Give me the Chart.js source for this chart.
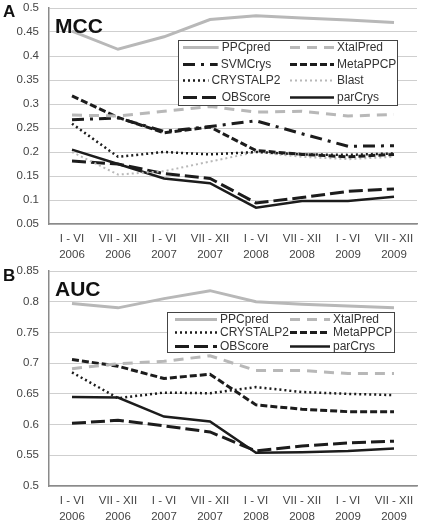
<!DOCTYPE html>
<html>
<head>
<meta charset="utf-8">
<script src="https://cdn.jsdelivr.net/npm/chart.js@4.4.0/dist/chart.umd.min.js"></script>
<style>
  body { margin: 0; background: #fff; width: 421px; height: 523px; overflow: hidden; position: relative; font-family: "Liberation Sans", Arial, sans-serif; }
  .panel { position: absolute; left: 0; }
  #wrapA { top: 0; }
  #wrapB { top: 262px; }
  .tag { position: absolute; left: 3px; font-weight: bold; font-size: 17px; color: #111; line-height: 17px; }
</style>
</head>
<body>
<div class="panel" id="wrapA"><canvas id="chartA" width="421" height="262"></canvas></div>
<div class="panel" id="wrapB"><canvas id="chartB" width="421" height="261"></canvas></div>
<div class="tag" style="top:3px">A</div>
<div class="tag" style="top:267px">B</div>
<script>
// periods on the x axis (two-line labels)
const periods = [
  ["I - VI", "2006"], ["VII - XII", "2006"],
  ["I - VI", "2007"], ["VII - XII", "2007"],
  ["I - VI", "2008"], ["VII - XII", "2008"],
  ["I - VI", "2009"], ["VII - XII", "2009"]
];

// panel A - MCC
const mccPPCpred   = [0.452, 0.414, 0.440, 0.476, 0.484, 0.479, 0.475, 0.470];
const mccXtalPred  = [0.277, 0.275, 0.285, 0.295, 0.283, 0.285, 0.275, 0.278];
const mccSVMCrys   = [0.267, 0.271, 0.243, 0.253, 0.265, 0.238, 0.212, 0.213];
const mccMetaPPCP  = [0.317, 0.272, 0.240, 0.252, 0.203, 0.195, 0.190, 0.195];
const mccCRYSTALP2 = [0.259, 0.190, 0.200, 0.195, 0.200, 0.195, 0.194, 0.197];
const mccBlast     = [0.200, 0.153, 0.160, 0.180, 0.200, 0.190, 0.185, 0.190];
const mccOBScore   = [0.181, 0.175, 0.155, 0.145, 0.094, 0.105, 0.118, 0.123];
const mccParCrys   = [0.205, 0.175, 0.145, 0.135, 0.084, 0.098, 0.098, 0.107];

// panel B - AUC
const aucPPCpred   = [0.797, 0.790, 0.805, 0.818, 0.800, 0.796, 0.793, 0.790];
const aucXtalPred  = [0.691, 0.699, 0.703, 0.712, 0.688, 0.688, 0.683, 0.683];
const aucCRYSTALP2 = [0.685, 0.643, 0.652, 0.651, 0.661, 0.653, 0.650, 0.648];
const aucMetaPPCP  = [0.706, 0.695, 0.675, 0.682, 0.632, 0.625, 0.621, 0.621];
const aucOBScore   = [0.602, 0.607, 0.598, 0.588, 0.557, 0.565, 0.570, 0.573];
const aucParCrys   = [0.645, 0.644, 0.613, 0.605, 0.554, 0.555, 0.557, 0.561];

const FONT = '"Liberation Sans", Arial, sans-serif';
const LIGHT = '#b8b8b8';
const DARK = '#1c1c1c';

const styles = {
  PPCpred:   { borderColor: LIGHT, borderWidth: 3, borderDash: [] },
  XtalPred:  { borderColor: LIGHT, borderWidth: 3, borderDash: [10, 7] },
  SVMCrys:   { borderColor: DARK, borderWidth: 3, borderDash: [12, 6, 3, 6] },
  MetaPPCP:  { borderColor: DARK, borderWidth: 3, borderDash: [7, 3] },
  CRYSTALP2: { borderColor: DARK, borderWidth: 2.5, borderDash: [2, 3] },
  Blast:     { borderColor: LIGHT, borderWidth: 2, borderDash: [2, 3] },
  OBScore:   { borderColor: DARK, borderWidth: 3, borderDash: [14, 5] },
  parCrys:   { borderColor: DARK, borderWidth: 2.5, borderDash: [] }
};

function ds(label, data) {
  return Object.assign({ label: label, data: data, fill: false, pointRadius: 0, tension: 0 }, styles[label]);
}

// legend in a white box inside the plot, plus the panel title
const boxLegend = {
  id: 'boxLegend',
  afterDraw(chart, args, o) {
    const ctx = chart.ctx;
    ctx.save();
    ctx.fillStyle = '#fff';
    ctx.fillRect(o.x, o.y, o.w, o.h);
    ctx.strokeStyle = '#444';
    ctx.lineWidth = 1;
    ctx.strokeRect(o.x + 0.5, o.y + 0.5, o.w, o.h);
    ctx.font = '12px ' + FONT;
    ctx.textBaseline = 'middle';
    chart.data.datasets.forEach((d, i) => {
      const col = o.cols[i % 2];
      const cy = Math.round(o.y + o.rowTop + Math.floor(i / 2) * o.rowH) + 0.5;
      const tw = ctx.measureText(d.label).width;
      const tx = col.align === 'center' ? col.text - tw / 2 : col.text;
      const end = col.align === 'center' ? tx - 3 : col.lineEnd;
      ctx.beginPath();
      ctx.setLineDash(d.borderDash);
      ctx.strokeStyle = d.borderColor;
      ctx.lineWidth = d.borderWidth;
      ctx.moveTo(o.x + col.lineStart, cy);
      ctx.lineTo(o.x + end, cy);
      ctx.stroke();
      ctx.setLineDash([]);
      ctx.fillStyle = '#333';
      ctx.textAlign = 'left';
      ctx.fillText(d.label, o.x + tx, cy);
    });
    ctx.font = 'bold 21px ' + FONT;
    ctx.fillStyle = '#111';
    ctx.textBaseline = 'alphabetic';
    ctx.fillText(o.title, chart.chartArea.left + 6, chart.chartArea.top + 25);
    ctx.restore();
  }
};

function makeChart(id, datasets, yMin, yMax, legendOpts, topGap, xHeight) {
  return new Chart(document.getElementById(id).getContext('2d'), {
    type: 'line',
    data: { labels: periods, datasets: datasets },
    plugins: [boxLegend],
    options: {
      responsive: false,
      animation: false,
      layout: { padding: { top: 0, right: 4, left: 0, bottom: 0 } },
      plugins: {
        legend: { display: false },
        tooltip: { enabled: false },
        boxLegend: legendOpts
      },
      scales: {
        x: {
          offset: true,
          grid: { display: false, drawTicks: false },
          border: { display: true, color: '#8a8a8a', width: 1.5 },
          ticks: { color: '#444', padding: 7, maxRotation: 0, autoSkip: false, font: { family: FONT, size: 11.5, lineHeight: 1.4 } },
          afterFit: (s) => { s.height = xHeight; }
        },
        y: {
          min: yMin,
          max: yMax,
          grid: { color: '#cfcfcf', lineWidth: 1, drawTicks: false },
          border: { display: true, color: '#8a8a8a', width: 1.5 },
          ticks: {
            stepSize: 0.05, color: '#444', padding: 10,
            font: { family: FONT, size: 11.5 },
            callback: (v) => String(Math.round(v * 100) / 100)
          },
          afterFit: (s) => { s.width = 49; s.paddingTop = topGap; s.paddingBottom = 0; }
        }
      }
    }
  });
}

makeChart('chartA', [
  ds('PPCpred', mccPPCpred), ds('XtalPred', mccXtalPred),
  ds('SVMCrys', mccSVMCrys), ds('MetaPPCP', mccMetaPPCP),
  ds('CRYSTALP2', mccCRYSTALP2), ds('Blast', mccBlast),
  ds('OBScore', mccOBScore), ds('parCrys', mccParCrys)
], 0.05, 0.5, {
  title: 'MCC', x: 178, y: 40, w: 219, h: 65, rowTop: 7, rowH: 16.7,
  cols: [{ lineStart: 5, text: 68, align: 'center' }, { lineStart: 112, lineEnd: 156, text: 159, align: 'left' }]
}, 8, 38);

makeChart('chartB', [
  ds('PPCpred', aucPPCpred), ds('XtalPred', aucXtalPred),
  ds('CRYSTALP2', aucCRYSTALP2), ds('MetaPPCP', aucMetaPPCP),
  ds('OBScore', aucOBScore), ds('parCrys', aucParCrys)
], 0.5, 0.85, {
  title: 'AUC', x: 167, y: 50, w: 227, h: 40, rowTop: 6.5, rowH: 13.5,
  cols: [{ lineStart: 8, lineEnd: 50, text: 53, align: 'left' }, { lineStart: 123, lineEnd: 163, text: 166, align: 'left' }]
}, 9, 37);
</script>
</body>
</html>
